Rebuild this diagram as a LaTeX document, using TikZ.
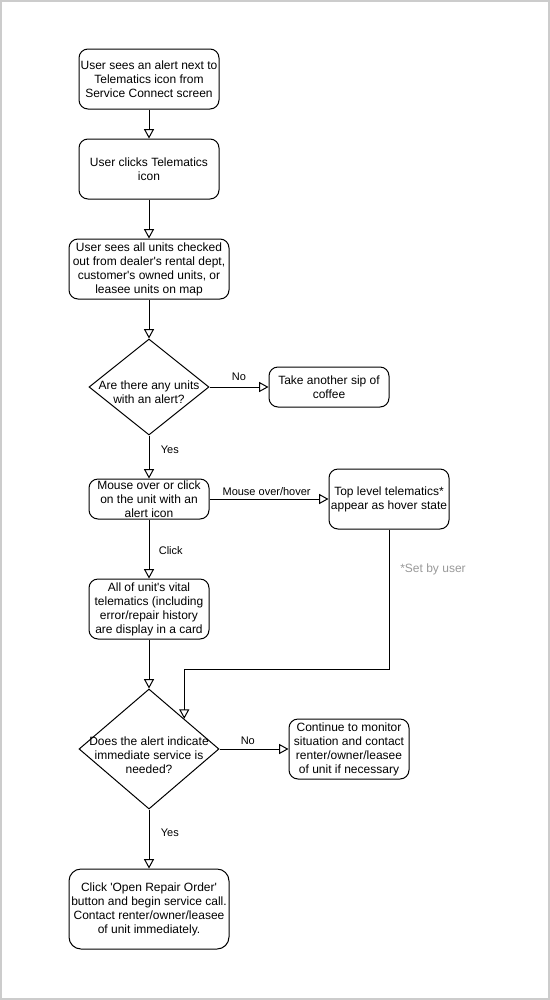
\documentclass[tikz,border=0pt]{standalone}
\usepackage{fontspec}
\setmainfont{Liberation Sans}
\usetikzlibrary{shapes.geometric,arrows.meta}
\definecolor{framegray}{HTML}{CCCCCC}
\definecolor{notegray}{HTML}{999999}

\begin{document}
\begin{tikzpicture}[x=0.75pt,y=-0.75pt,
    box/.style={fill=white,draw,line width=0.75pt,rounded corners=6.75pt,align=center,inner xsep=1pt,inner ysep=0pt,font=\fontsize{9}{10.5}\selectfont},
    decision/.style={diamond,fill=white,draw,line width=0.75pt,inner sep=0pt},
    inside/.style={align=center,font=\fontsize{9}{10.5}\selectfont},
    flow/.style={line width=0.75pt,-{Triangle[open,length=7pt,width=7.5pt]}},
    tag/.style={font=\fontsize{8.25}{10}\selectfont,inner sep=1pt}]
      \useasboundingbox (0,0) rectangle (550,1000);
      \draw[framegray,line width=1.5pt] (1,1) rectangle (549,998.5);
      \draw
        (149,79) node[box,minimum width=105pt,minimum height=45pt] (alert){User sees an alert next to\\Telematics icon from\\Service Connect screen}
        (149,169) node[box,minimum width=105pt,minimum height=45pt] (clicks){User clicks Telematics\\icon}
        (149,269) node[box,minimum width=120pt,minimum height=45pt] (units){User sees all units checked\\out from dealer\textquotesingle s rental dept,\\customer\textquotesingle s owned units, or\\leasee units on map}
        (149,387) node[decision,minimum width=90pt,minimum height=72pt,
            label={[inside,yshift=-4pt]center:Are there any units\\with an alert?}] (anyalert){}
        (329,387) node[box,minimum width=90pt,minimum height=30pt] (coffee){Take another sip of\\coffee}
        (149,499) node[box,minimum width=90pt,minimum height=30pt] (mouse){Mouse over or click\\on the unit with an\\alert icon}
        (389,499) node[box,minimum width=90pt,minimum height=45pt] (hover){Top level telematics*\\appear as hover state}
        (149,609) node[box,minimum width=90pt,minimum height=45pt] (card){All of unit\textquotesingle s vital\\telematics (including\\error/repair history\\are display in a card}
        (149,749) node[decision,minimum width=105pt,minimum height=90pt,
            label={[inside,yshift=-4.5pt]center:Does the alert indicate\\immediate service is\\needed?}] (service){}
        (349,749) node[box,minimum width=90pt,minimum height=45pt] (monitor){Continue to monitor\\situation and contact\\renter/owner/leasee\\of unit if necessary}
        (149,909) node[box,minimum width=120pt,minimum height=60pt,rounded corners=9pt] (repair){Click \textquotesingle Open Repair Order\textquotesingle\\button and begin service call.\\Contact renter/owner/leasee\\of unit immediately.}
        (433,569) node[font=\fontsize{9}{10.5}\selectfont,text=notegray] (setnote){*Set by user};
      \begin{scope}[flow]
        \draw (alert) -- (clicks);
        \draw (clicks) -- (units);
        \draw (units) -- (anyalert);
        \draw (anyalert) -- node[tag,above=3.5pt] {No} (coffee);
        \draw (anyalert) -- node[tag,right=7.5pt,pos=0.34] {Yes} (mouse);
        \draw (mouse) -- node[tag,above=1pt,pos=0.48] {Mouse over/hover} (hover);
        \draw (mouse) -- node[tag,right=6pt,pos=0.52] {Click} (card);
        \draw (card) -- (service);
        \draw (hover.south) -- ++(0,140) -| (service.north east);
        \draw (service) -- node[tag,above=2pt,pos=0.41] {No} (monitor);
        \draw (service) -- node[tag,right=7.5pt,pos=0.4] {Yes} (repair);
      \end{scope}
    \end{tikzpicture}
\end{document}
